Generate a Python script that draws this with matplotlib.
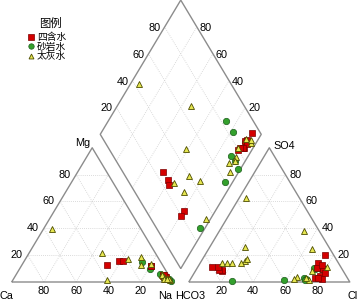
import matplotlib
matplotlib.use('Agg')
import matplotlib.pyplot as plt
import numpy as np

# ---------------- data (meq %) ----------------
group_names = ['四含水', '砂岩水', '太灰水']

# 四含水
sihan_mg = [12.7, 15.9, 15.7, 11.9, 12.0, 3.0, 4.5, 3.5, 5.0, 3.0, 2.5, 4.0, 2.0, 3.5, 5.5]
sihan_na = [53.0, 59.0, 61.5, 80.4, 80.5, 93.5, 92.0, 93.5, 91.5, 94.0, 94.5, 93.0, 95.0, 94.0, 92.0]
sihan_so4 = [8.2, 9.0, 9.0, 11.0, 11.0, 20.1, 14.0, 9.5, 2.8, 4.5, 10.2, 12.7, 6.5, 2.0, 2.8]
sihan_cl = [16.7, 16.0, 14.4, 12.5, 8.7, 74.5, 73.4, 78.7, 77.0, 79.2, 74.3, 76.2, 81.3, 81.6, 79.0]

# 砂岩水
sha_mg = [15.1, 9.5, 6.0, 3.0, 0.8, 4.0, 2.0, 2.5]
sha_na = [73.2, 81.2, 89.2, 93.5, 98.7, 92.6, 96.5, 95.1]
sha_so4 = [10.0, 10.5, 2.8, 2.0, 1.5, 10.0, 0.7, 1.5]
sha_cl = [73.3, 72.8, 70.2, 72.0, 71.3, 77.2, 26.2, 58.2]

# 太灰水
tai_mg = [39.3, 21.4, 1.5, 16.9, 18.4, 13.4, 12.7, 1.5, 4.0, 6.0, 3.0, 2.0, 4.0, 5.0, 2.0, 2.5]
tai_na = [5.6, 45.6, 58.6, 64.0, 70.9, 79.6, 73.8, 97.6, 92.7, 90.6, 94.7, 96.8, 92.4, 90.9, 93.5, 95.5]
tai_so4 = [16.0, 62.9, 26.3, 14.0, 14.4, 16.9, 14.0, 14.4, 1.5, 4.0, 2.0, 38.1, 24.6, 8.0, 3.0, 11.4]
tai_cl = [27.0, 4.1, 21.7, 13.8, 25.2, 27.9, 16.5, 19.8, 74.0, 65.0, 64.5, 52.6, 64.0, 72.6, 71.0, 80.0]

tick_vals = [20, 40, 60, 80]

# ---------------- geometry ----------------
G = 0.1
H = np.sqrt(3) / 2
FONT = 'Liberation Sans'
CJK = ['Noto Sans CJK SC', 'DejaVu Sans']


def left_xy(mg, na):
    mg = np.asarray(mg) / 100.0
    na = np.asarray(na) / 100.0
    return na + mg / 2, mg * H


def right_xy(so4, cl):
    so4 = np.asarray(so4) / 100.0
    cl = np.asarray(cl) / 100.0
    return 1 + G + cl + so4 / 2, so4 * H


def diamond_xy(c, a):
    c = np.asarray(c, dtype=float)
    a = np.asarray(a, dtype=float)
    return 1 + G / 2 + 0.5 * (a - c), G * H + H * (a + c)


W_px, H_px = 359, 301
fig = plt.figure(figsize=(W_px / 100, H_px / 100), dpi=100)
sx, sy = 161.0, 155.0
x0_px, base_px = 11.7, 282.0
xmax = 2 + G
ymax = base_px / sy
ax = fig.add_axes([x0_px / W_px, (H_px - base_px) / H_px, xmax * sx / W_px, base_px / H_px])
ax.set_xlim(0, xmax)
ax.set_ylim(0, ymax)
ax.axis('off')

edge_kw = dict(color='#8c8c8c', lw=1.0, solid_capstyle='butt', clip_on=False, zorder=2)
grid_kw = dict(color='#cfcfcf', lw=0.6, ls=(0, (1, 1.5)), clip_on=False, zorder=1)

# outlines
ax.plot([0, 1, 0.5, 0], [0, 0, H, 0], **edge_kw)
ax.plot([1 + G, 2 + G, 1.5 + G, 1 + G], [0, 0, H, 0], **edge_kw)
dx, dy = diamond_xy([0, 0, 1, 1, 0], [0, 1, 1, 0, 0])
ax.plot(dx, dy, **edge_kw)

# grids
for v in np.array(tick_vals) / 100.0:
    for off in (0, 1 + G):
        ax.plot([off + v / 2, off + 1 - v / 2], [v * H, v * H], **grid_kw)
        ax.plot([off + v, off + v + (1 - v) / 2], [0, (1 - v) * H], **grid_kw)
        ax.plot([off + 1 - v, off + (1 - v) / 2], [0, (1 - v) * H], **grid_kw)
    gx, gy = diamond_xy([0, 1], [v, v])
    ax.plot(gx, gy, **grid_kw)
    gx, gy = diamond_xy([v, v], [0, 1])
    ax.plot(gx, gy, **grid_kw)

# tick labels
tfs = 7.8
for t in tick_vals:
    v = t / 100.0
    # left bottom: Ca
    ax.annotate(str(t), (1 - v, 0), xytext=(0, -9), textcoords='offset pixels',
                ha='center', va='center', fontsize=tfs, family=FONT)
    # left edge: Mg
    ax.annotate(str(t), (v / 2, v * H), xytext=(-5, 0), textcoords='offset pixels',
                ha='right', va='center', fontsize=tfs, family=FONT)
    # right bottom: Cl
    ax.annotate(str(t), (1 + G + v, 0), xytext=(0, -9), textcoords='offset pixels',
                ha='center', va='center', fontsize=tfs, family=FONT)
    # right edge: SO4
    ax.annotate(str(t), (2 + G - v / 2, v * H), xytext=(4, 0), textcoords='offset pixels',
                ha='left', va='center', fontsize=tfs, family=FONT)
    # diamond upper-left: SO4+Cl
    px, py = diamond_xy(1, v)
    ax.annotate(str(t), (px, py), xytext=(-4, -1), textcoords='offset pixels',
                ha='right', va='center', fontsize=tfs, family=FONT)
    # diamond upper-right: Ca+Mg
    px, py = diamond_xy(v, 1)
    ax.annotate(str(t), (px, py), xytext=(3, -1), textcoords='offset pixels',
                ha='left', va='center', fontsize=tfs, family=FONT)

# corner labels
corner = [('Ca', (0, 0), (-5, -14)), ('Na', (1, 0), (-8, -14)), ('Mg', (0.5, H), (-10, 5)),
          ('HCO3', (1 + G, 0), (1, -14)), ('Cl', (2 + G, 0), (3, -14)), ('SO4', (1.5 + G, H), (15, 2))]
for lab, xy, off in corner:
    ax.annotate(lab, xy, xytext=off, textcoords='offset pixels', ha='center', va='center',
                fontsize=tfs, family=FONT)

# ---------------- points ----------------
styles = {
    '四含水': dict(marker='s', ms=4.6, mfc='#d40000', mec='#7a0000', mew=0.5),
    '砂岩水': dict(marker='o', ms=4.6, mfc='#33a02c', mec='#1c5c1c', mew=0.5),
    '太灰水': dict(marker='^', ms=4.2, mfc='#e6e650', mec='#4d4d00', mew=0.6),
}
data = {
    '四含水': (sihan_mg, sihan_na, sihan_so4, sihan_cl),
    '砂岩水': (sha_mg, sha_na, sha_so4, sha_cl),
    '太灰水': (tai_mg, tai_na, tai_so4, tai_cl),
}
handles = {}
for name, z in [('砂岩水', 4), ('四含水', 5), ('太灰水', 6)]:
    mg, na, so4, cl = (np.asarray(a, dtype=float) for a in data[name])
    lx, ly = left_xy(mg, na)
    rx, ry = right_xy(so4, cl)
    c = (100 - na) / 100.0
    a = (so4 + cl) / 100.0
    ddx, ddy = diamond_xy(c, a)
    xs = np.concatenate([lx, rx, ddx])
    ys = np.concatenate([ly, ry, ddy])
    h, = ax.plot(xs, ys, ls='none', clip_on=False, zorder=z, label=name, **styles[name])
    handles[name] = h

# legend
leg = ax.legend([handles[n] for n in group_names], group_names, loc='upper left',
                bbox_to_anchor=(28.6 / W_px, 1 - 32.0 / H_px), bbox_transform=fig.transFigure,
                frameon=False, prop={'family': CJK, 'size': 7.0},
                handlelength=0.5, handletextpad=0.35, labelspacing=-0.05,
                borderpad=0, borderaxespad=0, markerscale=0.85)
fig.text(50.5 / W_px, 1 - 23.3 / H_px, '图例', ha='center', va='center',
         family=CJK, fontsize=8.2)

fig.savefig('out.png', dpi=100)
